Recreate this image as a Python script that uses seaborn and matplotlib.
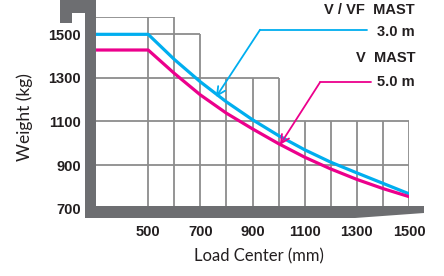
import matplotlib
matplotlib.use("Agg")
import matplotlib.pyplot as plt
import seaborn as sns
import pandas as pd
from matplotlib.patches import Polygon

# ---- data ----
load_center = [300, 500, 600, 700, 800, 900, 1000, 1100, 1200, 1300, 1400, 1500]
weight_3m = [1500, 1500, 1385, 1282, 1190, 1108, 1035, 970, 913, 864, 816, 768]
weight_5m = [1428, 1428, 1321, 1222, 1138, 1066, 998, 936, 882, 834, 792, 755]
series_names = ["V / VF MAST 3.0 m", "V MAST 5.0 m"]
x_ticks = [500, 700, 900, 1100, 1300, 1500]
y_ticks = [700, 900, 1100, 1300, 1500]
grid_x = [500, 600, 700, 800, 900, 1000, 1100, 1200, 1300, 1400, 1500]
grid_y = [900, 1100, 1300, 1500, 1580]
step_edges = [300, 600, 700, 1000, 1500]
step_tops = [1580, 1500, 1300, 1100]

CYAN = "#00aeef"
MAGENTA = "#ec008c"
BAR = "#6d6e71"
GRID = "#8c8c8c"
TXT = "#231f20"

W, H = 444, 276
sns.set_style("white")
plt.rcParams["font.family"] = ["Liberation Sans", "DejaVu Sans"]

fig = plt.figure(figsize=(W / 100, H / 100), dpi=100)
# axes placed in pixels: left 96, right 409, top 16.9, bottom 208.6
ax = fig.add_axes([96 / W, (H - 208.6) / H, 313 / W, (208.6 - 16.9) / H])
ax.set_xlim(300, 1500)
ax.set_ylim(700, 1580)
for s in ax.spines.values():
    s.set_visible(False)

# staircase grid
for gx in grid_x:
    top = max(step_tops[i] for i in range(len(step_tops))
              if step_edges[i] <= gx <= step_edges[i + 1])
    ax.vlines(gx, 700, top, color=GRID, lw=1.3, zorder=1)
for gy in grid_y:
    right = max(step_edges[i + 1] for i in range(len(step_tops)) if step_tops[i] >= gy)
    ax.hlines(gy, 300, right, color=GRID, lw=1.3, zorder=1)

df = pd.DataFrame({
    "load": load_center * 2,
    "weight": weight_3m + weight_5m,
    "mast": [series_names[0]] * len(load_center) + [series_names[1]] * len(load_center),
})
sns.lineplot(data=df, x="load", y="weight", hue="mast",
             palette={series_names[0]: CYAN, series_names[1]: MAGENTA},
             lw=2.3, legend=False, ax=ax, zorder=3)

# ticks
ax.set_xticks(x_ticks)
ax.set_yticks(y_ticks)
ax.set_xticklabels([str(v) for v in x_ticks], fontsize=10.5, fontweight="bold", color=TXT)
ax.set_yticklabels([str(v) for v in y_ticks], fontsize=10.5, fontweight="bold", color=TXT)
ax.tick_params(axis="x", length=0, pad=12)
ax.tick_params(axis="y", length=0, pad=11)

ax.set_xlabel("Load Center (mm)", fontsize=12, family=["Lato", "DejaVu Sans"], color=TXT, va="center")
ax.set_ylabel("Weight (kg)", fontsize=12.5, family=["Lato", "DejaVu Sans"], color=TXT, va="center")
ax.xaxis.set_label_coords((259 - 96) / 313, (208.6 - 256) / 191.7)
ax.yaxis.set_label_coords((25 - 96) / 313, (208.6 - 117) / 191.7)

# fork shaped axis bar (pixel coordinates)
def px(x, y):
    return (x / W, 1 - y / H)

fork = [px(60, 0), px(96, 0), px(96, 206), px(424, 206), px(424, 213),
        px(355, 218), px(85, 218), px(85, 13), px(72, 13), px(72, 23), px(60, 23)]
fig.patches.append(Polygon(fork, closed=True, transform=fig.transFigure,
                           facecolor=BAR, edgecolor="none", zorder=5))

# leader lines with arrows
ax.plot([1339, 929], [1521, 1521], color=CYAN, lw=1.3, clip_on=False, zorder=4)
ax.annotate("", xy=(760, 1212), xytext=(929, 1521),
            arrowprops=dict(arrowstyle="->,head_length=0.6,head_width=0.3",
                            color=CYAN, lw=1.3, shrinkA=0, shrinkB=0),
            annotation_clip=False, zorder=4)
ax.plot([1355, 1159], [1280, 1280], color=MAGENTA, lw=1.3, clip_on=False, zorder=4)
ax.annotate("", xy=(1005, 992), xytext=(1159, 1280),
            arrowprops=dict(arrowstyle="->,head_length=0.6,head_width=0.3",
                            color=MAGENTA, lw=1.3, shrinkA=0, shrinkB=0),
            annotation_clip=False, zorder=4)

# legend texts
txt_kw = dict(ha="right", va="center", fontsize=10.5, fontweight="bold", color=TXT)
fig.text(415 / W, 1 - 10 / H, "V / VF  MAST", **txt_kw)
fig.text(415 / W, 1 - 31.5 / H, "3.0 m", **txt_kw)
fig.text(415 / W, 1 - 58 / H, "V  MAST", **txt_kw)
fig.text(415 / W, 1 - 82.5 / H, "5.0 m", **txt_kw)

fig.savefig("out.png", dpi=100)
